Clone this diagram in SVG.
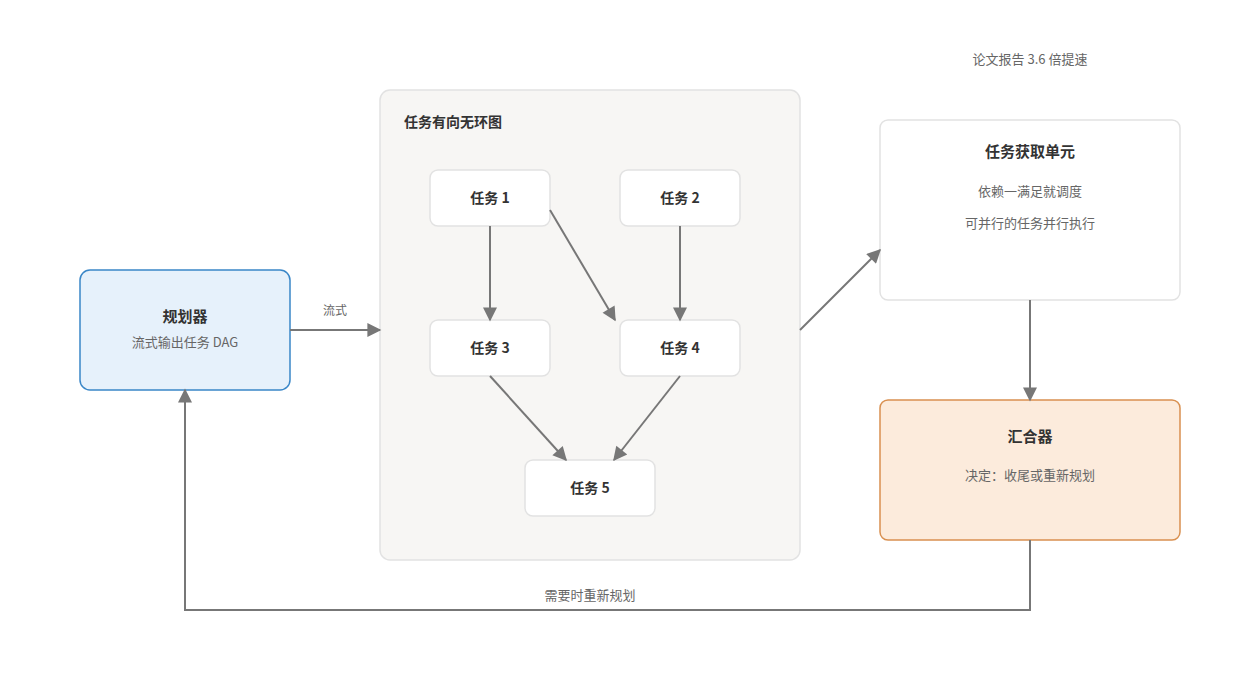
<svg xmlns="http://www.w3.org/2000/svg" width="1240" height="680" viewBox="0 0 1240 680">
<defs>
<marker id="ah" viewBox="0 0 10 10" refX="9" refY="5" markerWidth="18" markerHeight="14" markerUnits="userSpaceOnUse" orient="auto"><path d="M0,0 L10,5 L0,10 z" fill="#777"/></marker>
<style>
text{font-family:"Noto Sans CJK SC","Noto Sans",sans-serif;text-anchor:middle}
.t{font-size:14px;font-weight:bold;fill:#333}
.s{font-size:13px;fill:#666}
.task rect{fill:#fff;stroke:#e2e2e2;stroke-width:1.5}
.e{stroke:#777;stroke-width:2;fill:none;marker-end:url(#ah)}
</style>
</defs>
<rect width="1240" height="680" fill="#fff"/>
<text x="1030" y="64" class="s">论文报告 3.6 倍提速</text>
<g id="dag"><rect x="380" y="90" width="420" height="470" rx="10" fill="#f7f6f4" stroke="#e2e2e2" stroke-width="1.5"/><text x="404" y="127" class="t" style="text-anchor:start">任务有向无环图</text></g>
<g id="planner"><rect x="80" y="270" width="210" height="120" rx="10" fill="#e6f1fb" stroke="#3a87c8" stroke-width="1.5"/><text x="185" y="322" class="t" style="font-size:15px">规划器</text><text x="185" y="347" class="s">流式输出任务 DAG</text></g>
<g id="t1" class="task"><rect x="430" y="170" width="120" height="56" rx="8"/><text x="490" y="203" class="t">任务 1</text></g>
<g id="t2" class="task"><rect x="620" y="170" width="120" height="56" rx="8"/><text x="680" y="203" class="t">任务 2</text></g>
<g id="t3" class="task"><rect x="430" y="320" width="120" height="56" rx="8"/><text x="490" y="353" class="t">任务 3</text></g>
<g id="t4" class="task"><rect x="620" y="320" width="120" height="56" rx="8"/><text x="680" y="353" class="t">任务 4</text></g>
<g id="t5" class="task"><rect x="525" y="460" width="130" height="56" rx="8"/><text x="590" y="493" class="t">任务 5</text></g>
<g id="fetch"><rect x="880" y="120" width="300" height="180" rx="8" fill="#fff" stroke="#e2e2e2" stroke-width="1.5"/><text x="1030" y="157" class="t" style="font-size:15px">任务获取单元</text><text x="1030" y="196" class="s">依赖一满足就调度</text><text x="1030" y="228" class="s">可并行的任务并行执行</text></g>
<g id="agg"><rect x="880" y="400" width="300" height="140" rx="8" fill="#fcebdc" stroke="#d99050" stroke-width="1.5"/><text x="1030" y="442" class="t" style="font-size:15px">汇合器</text><text x="1030" y="480" class="s">决定：收尾或重新规划</text></g>
<g id="connectors">
<line class="e" x1="290" y1="330" x2="380" y2="330"/>
<text x="335" y="315" class="s" style="font-size:12px">流式</text>
<line class="e" x1="490" y1="226" x2="490" y2="320"/>
<line class="e" x1="550" y1="210" x2="615" y2="320"/>
<line class="e" x1="680" y1="226" x2="680" y2="320"/>
<line class="e" x1="490" y1="376" x2="566" y2="460"/>
<line class="e" x1="680" y1="376" x2="614" y2="460"/>
<line class="e" x1="800" y1="330" x2="880" y2="250"/>
<line class="e" x1="1030" y1="300" x2="1030" y2="400"/>
<polyline class="e" points="1030,540 1030,610 185,610 185,390"/>
<text x="590" y="600" class="s">需要时重新规划</text>
</g>
</svg>
